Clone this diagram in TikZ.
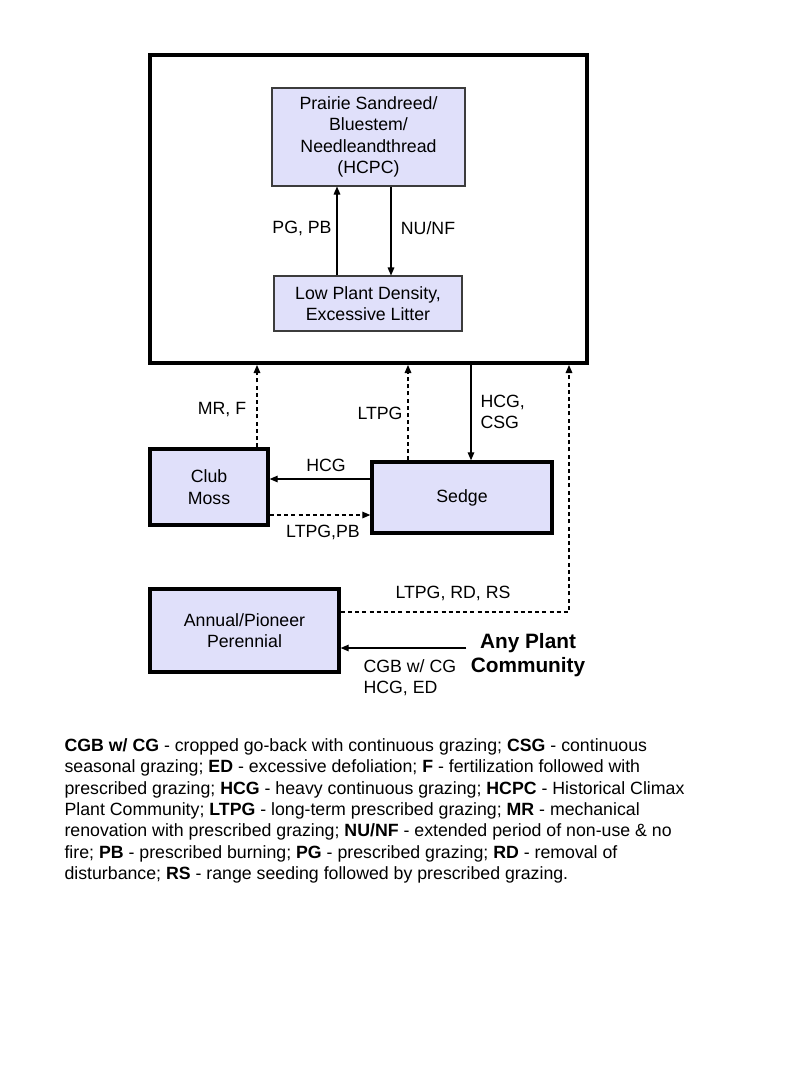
\documentclass[tikz,border=0pt]{standalone}
\usepackage{fontspec}
\setmainfont{Liberation Sans}
\usetikzlibrary{arrows.meta,positioning}
\definecolor{boxfill}{RGB}{224,224,250}
\definecolor{boxline}{RGB}{60,60,60}
\tikzset{
  plain/.style={draw=boxline,line width=0.8pt,fill=boxfill,align=center,inner sep=0pt},
  state/.style={draw=black,line width=2.6pt,fill=boxfill,align=center,inner sep=0pt},
  lbl/.style={inner sep=0pt,align=center},
  dash line/.style={dash pattern=on 3pt off 2.4pt},
}
\begin{document}
\begin{tikzpicture}[x=0.75pt,y=-0.75pt,>={Triangle[length=6pt,width=5pt]},line width=0.8pt,
  every node/.style={font=\fontsize{13.3}{16}\selectfont}]
\useasboundingbox (0,0) rectangle (800,1067);

% Reference state
\node[draw=black,line width=3pt,minimum width=327.75pt,minimum height=231pt,inner sep=0pt] (refstate) at (368.5,209) {};
\node[plain,minimum width=144.75pt,minimum height=73.5pt] (hcpc) at (368.5,137)
  {Prairie Sandreed/\\Bluestem/\\Needleandthread\\(HCPC)};
\node[plain,minimum width=141pt,minimum height=41.25pt] (low) at (368,303.5)
  {Low Plant Density,\\Excessive Litter};

% Other states
\node[state,minimum width=88.5pt,minimum height=57pt] (club) at (209,487) {Club\\Moss};
\node[state,minimum width=135pt,minimum height=53.25pt] (sedge) at (462,497.5) {Sedge};
\node[state,minimum width=141.75pt,minimum height=62.25pt] (annual) at (244.5,630.5) {Annual/Pioneer\\Perennial};
\node[lbl,inner sep=3pt,font=\fontsize{15.6}{18}\selectfont\bfseries] (any) at (528,655) {Any Plant\\Community};

% Transitions
\draw[->] (low.north -| 337,0) -- (hcpc.south -| 337,0);
\draw[->] (hcpc.south -| 391,0) -- (low.north -| 391,0);
\draw[->,dash line] (club.north -| 257,0) -- (refstate.south -| 257,0);
\draw[->,dash line] (sedge.north -| 408,0) -- (refstate.south -| 408,0);
\draw[->] (refstate.south -| 471,0) -- (sedge.north -| 471,0);
\draw[->] (sedge.west |- 0,479) -- (club.east |- 0,479);
\draw[->,dash line] (club.east |- 0,515) -- (sedge.west |- 0,515);
\draw[->,dash line] (annual.east |- 0,612) -| (refstate.south -| 569,0);
\draw[->] (any.west |- 0,648) -- (annual.east |- 0,648);

% Labels
\node[lbl] (pgpb) at (302,228) {PG, PB};
\node[lbl] (nunf) at (428,228) {NU/NF};
\node[lbl] (mrf) at (222,410) {MR, F};
\node[lbl] (ltpg) at (380,413) {LTPG};
\node[lbl,anchor=west,align=left] (hcgcsg) at (480,412) {HCG,\\CSG};
\node[lbl] (hcg) at (326,465) {HCG};
\node[lbl] (ltpgpb) at (323,532) {LTPG,PB};
\node[lbl] (ltpgrdrs) at (453,593) {LTPG, RD, RS};
\node[lbl,anchor=west,align=left] (cgb) at (363,678) {CGB w/ CG\\HCG, ED};

% Legend
\node[lbl,anchor=north west,align=left] (legend) at (64,738)
  {\textbf{CGB w/ CG} - cropped go-back with continuous grazing; \textbf{CSG} - continuous\\
   seasonal grazing; \textbf{ED} - excessive defoliation; \textbf{F} - fertilization followed with\\
   prescribed grazing; \textbf{HCG} - heavy continuous grazing; \textbf{HCPC} - Historical Climax\\
   Plant Community; \textbf{LTPG} - long-term prescribed grazing; \textbf{MR} - mechanical\\
   renovation with prescribed grazing; \textbf{NU/NF} - extended period of non-use \& no\\
   fire; \textbf{PB} - prescribed burning; \textbf{PG} - prescribed grazing; \textbf{RD} - removal of\\
   disturbance; \textbf{RS} - range seeding followed by prescribed grazing.};
\end{tikzpicture}
\end{document}
